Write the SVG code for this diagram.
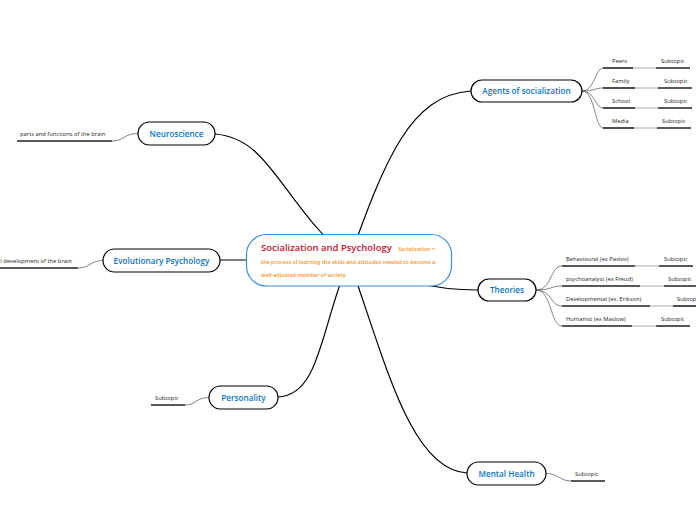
<svg xmlns="http://www.w3.org/2000/svg" width="696" height="520" viewBox="0 0 696 520">
<style>
.main{fill:#fff;stroke:#000;stroke-width:1.2}
.mt{font-family:"Open Sans",sans-serif;font-size:8.2px;font-weight:600;fill:#0a74c2;text-anchor:middle}
.st{font-family:"Open Sans",sans-serif;font-size:5.8px;fill:#222}
.conn{fill:none;stroke:#000;stroke-width:1.2}
.sub{fill:none;stroke:#666;stroke-width:0.8}
.ul{stroke:#222;stroke-width:1.6}
.ulg{stroke:#aaa;stroke-width:1}
.note{font-family:"Open Sans",sans-serif;font-size:5.4px;font-weight:600;fill:#f7941d}
</style>
<rect width="696" height="520" fill="#fff"/>
<g id="connectors">
<path class="conn" d="M349,260 C 280,200 270,138 215,134"/>
<path class="conn" d="M349,260 C 385,160 410,95 471,91"/>
<path class="conn" d="M349,260 L220,260"/>
<path class="conn" d="M349,260 C 400,280 430,290 478,290"/>
<path class="conn" d="M349,260 C 320,330 320,395 278,397"/>
<path class="conn" d="M349,260 C 385,360 410,470 467,473"/>
<path class="sub" d="M582,91 C 595,91 595,68 603,68"/>
<path class="sub" d="M582,91 C 595,91 595,88 603,88"/>
<path class="sub" d="M582,91 C 595,91 595,108 603,108"/>
<path class="sub" d="M582,91 C 595,91 595,128 603,128"/>
<path class="sub" d="M536,290 C 552,290 550,266 562,266"/>
<path class="sub" d="M536,290 C 552,290 550,286 562,286"/>
<path class="sub" d="M536,290 C 552,290 550,306 562,306"/>
<path class="sub" d="M536,290 C 552,290 550,326 562,326"/>
<path class="sub" d="M138,133.5 C 124,133.5 124,141 112,141"/>
<path class="sub" d="M103,260.5 C 90,260.5 90,268 78,268"/>
<path class="sub" d="M209,397.5 C 196,397.5 196,405 185,405"/>
<path class="sub" d="M546,473.5 C 558,473.5 560,481 571,481"/>
</g>
<g id="central">
<rect x="246.5" y="234.5" width="205" height="51.5" rx="20" fill="#fff" stroke="#3a8fd6" stroke-width="1.2"/>
<text x="261" y="251" font-family="'Open Sans',sans-serif" font-size="9.5" font-weight="600" fill="#c8102e">Socialization and Psychology</text>
<text class="note" x="398" y="250.5">Socialization =</text>
<text class="note" x="261" y="264">the process of learning the skills and attitudes needed to become a</text>
<text class="note" x="261" y="277">well-adjusted member of society</text>
</g>
<g id="agents">
<rect class="main" x="471" y="80" width="111" height="22" rx="11"/>
<text class="mt" x="526.5" y="94">Agents of socialization</text>
</g>
<g id="agents-subs">
<text class="st" x="612" y="63">Peers</text><line class="ul" x1="603" y1="68" x2="633" y2="68"/><line class="ulg" x1="633" y1="68" x2="656" y2="68"/><line class="ul" x1="656" y1="68" x2="690" y2="68"/><text class="st" x="661" y="63">Subtopic</text>
<text class="st" x="612" y="83">Family</text><line class="ul" x1="603" y1="88" x2="635" y2="88"/><line class="ulg" x1="635" y1="88" x2="658" y2="88"/><line class="ul" x1="658" y1="88" x2="692" y2="88"/><text class="st" x="664" y="83">Subtopic</text>
<text class="st" x="612" y="103">School</text><line class="ul" x1="603" y1="108" x2="635" y2="108"/><line class="ulg" x1="635" y1="108" x2="658" y2="108"/><line class="ul" x1="658" y1="108" x2="692" y2="108"/><text class="st" x="664" y="103">Subtopic</text>
<text class="st" x="612" y="123">Media</text><line class="ul" x1="603" y1="128" x2="634" y2="128"/><line class="ulg" x1="634" y1="128" x2="657" y2="128"/><line class="ul" x1="657" y1="128" x2="691" y2="128"/><text class="st" x="662" y="123">Subtopic</text>
</g>
<g id="theories">
<rect class="main" x="478" y="279" width="58" height="22" rx="11"/>
<text class="mt" x="507" y="293">Theories</text>
</g>
<g id="theories-subs">
<text class="st" x="566" y="261">Behavioural (ex Pavlov)</text><line class="ul" x1="562" y1="266" x2="635" y2="266"/><line class="ulg" x1="635" y1="266" x2="659" y2="266"/><line class="ul" x1="659" y1="266" x2="693" y2="266"/><text class="st" x="664" y="261">Subtopic</text>
<text class="st" x="566" y="281">psychoanalyst (ex Freud)</text><line class="ul" x1="562" y1="286" x2="640" y2="286"/><line class="ulg" x1="640" y1="286" x2="664" y2="286"/><line class="ul" x1="664" y1="286" x2="697" y2="286"/><text class="st" x="668" y="281">Subtopic</text>
<text class="st" x="566" y="301">Developmental (ex. Erikson)</text><line class="ul" x1="562" y1="306" x2="650" y2="306"/><line class="ulg" x1="650" y1="306" x2="673" y2="306"/><line class="ul" x1="673" y1="306" x2="697" y2="306"/><text class="st" x="677" y="301">Subtopic</text>
<text class="st" x="566" y="321">Humanist (ex Maslow)</text><line class="ul" x1="562" y1="326" x2="632" y2="326"/><line class="ulg" x1="632" y1="326" x2="656" y2="326"/><line class="ul" x1="656" y1="326" x2="690" y2="326"/><text class="st" x="661" y="321">Subtopic</text>
</g>
<g id="mental-health">
<rect class="main" x="467" y="462" width="79" height="23" rx="11.5"/>
<text class="mt" x="506.5" y="476.5">Mental Health</text>
<text class="st" x="575" y="476">Subtopic</text><line class="ul" x1="571" y1="481" x2="605" y2="481"/>
</g>
<g id="neuroscience">
<rect class="main" x="138" y="122" width="77" height="23" rx="11.5"/>
<text class="mt" x="176.5" y="136.5">Neuroscience</text>
<text class="st" x="20" y="136">parts and functions of the brain</text><line class="ul" x1="17" y1="141" x2="112" y2="141"/>
</g>
<g id="evolutionary">
<rect class="main" x="103" y="249" width="117" height="23" rx="11.5"/>
<text class="mt" x="161.5" y="263.5">Evolutionary Psychology</text>
<text class="st" x="72" y="263" text-anchor="end">l development of the brain</text><line class="ul" x1="0" y1="268" x2="78" y2="268"/>
</g>
<g id="personality">
<rect class="main" x="209" y="386" width="69" height="23" rx="11.5"/>
<text class="mt" x="243.5" y="400.5">Personality</text>
<text class="st" x="155" y="400">Subtopic</text><line class="ul" x1="151" y1="405" x2="185" y2="405"/>
</g>
</svg>
